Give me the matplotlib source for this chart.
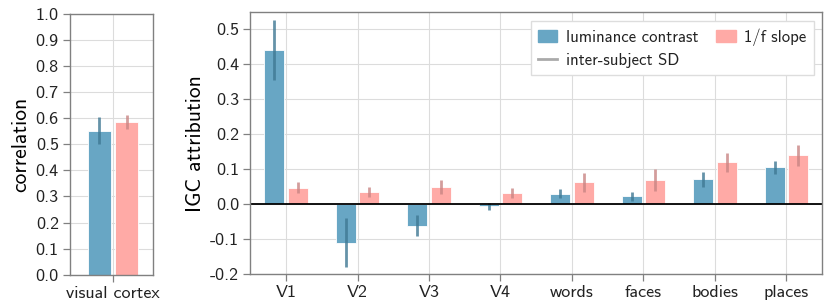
import numpy as np
import matplotlib
matplotlib.use('Agg')
import matplotlib.pyplot as plt
from matplotlib.lines import Line2D
from matplotlib.patches import Patch

plt.rcParams['font.family'] = ['cmss10', 'DejaVu Sans']
plt.rcParams['axes.unicode_minus'] = False

# Data
regions = ['V1', 'V2', 'V3', 'V4', 'words', 'faces', 'bodies', 'places']
lum_mean = [0.44, -0.11, -0.061, -0.006, 0.03, 0.022, 0.071, 0.105]
lum_sd = [0.085, 0.07, 0.031, 0.01, 0.013, 0.012, 0.021, 0.019]
slope_mean = [0.047, 0.035, 0.049, 0.032, 0.063, 0.069, 0.119, 0.139]
slope_sd = [0.015, 0.014, 0.021, 0.013, 0.027, 0.03, 0.028, 0.03]

corr_label = ['visual cortex']
corr_lum = [0.552]
corr_lum_sd = [0.052]
corr_slope = [0.585]
corr_slope_sd = [0.026]

blue = '#68a6c4'
pink = '#ffaaa6'
blue_err = '#3f7893'
pink_err = '#c98584'
grid_c = '#dcdcdc'
spine_c = '#808080'
width = 0.28
off = 0.165


def style(ax):
    ax.set_axisbelow(True)
    ax.grid(True, color=grid_c, linewidth=0.8)
    for s in ax.spines.values():
        s.set_color(spine_c)
        s.set_linewidth(1.0)
    ax.tick_params(labelcolor='#222222', labelsize=13, length=5, width=0.9, color=spine_c, pad=3)


fig = plt.figure(figsize=(8.3, 3.02), dpi=100)
ax1 = fig.add_axes([0.0843, 0.09, 0.0996, 0.865])
ax2 = fig.add_axes([0.3016, 0.092, 0.6888, 0.8675])

# left panel
x1 = np.arange(len(corr_label))
ax1.bar(x1 - off, corr_lum, width, color=blue, edgecolor='white', linewidth=0.6)
ax1.bar(x1 + off, corr_slope, width, color=pink, edgecolor='white', linewidth=0.6)
ax1.errorbar(x1 - off, corr_lum, yerr=corr_lum_sd, fmt='none', ecolor=blue_err, elinewidth=2, alpha=0.8)
ax1.errorbar(x1 + off, corr_slope, yerr=corr_slope_sd, fmt='none', ecolor=pink_err, elinewidth=2, alpha=0.8)
ax1.set_xlim(-0.52, 0.48)
ax1.set_ylim(0, 1.0)
ax1.set_yticks(np.arange(0, 1.01, 0.1))
ax1.set_xticks(x1)
ax1.set_xticklabels(corr_label)
ax1.set_ylabel('correlation', fontsize=15.5)
style(ax1)

# right panel
x = np.arange(len(regions))
ax2.bar(x - off, lum_mean, width, color=blue, edgecolor='white', linewidth=0.6)
ax2.bar(x + off, slope_mean, width, color=pink, edgecolor='white', linewidth=0.6)
ax2.errorbar(x - off, lum_mean, yerr=lum_sd, fmt='none', ecolor=blue_err, elinewidth=2, alpha=0.8)
ax2.errorbar(x + off, slope_mean, yerr=slope_sd, fmt='none', ecolor=pink_err, elinewidth=2, alpha=0.8)
ax2.axhline(0, color='black', linewidth=1.3)
ax2.set_xlim(-0.5, len(regions) - 0.5)
ax2.set_ylim(-0.2, 0.548)
ax2.set_yticks(np.arange(-0.2, 0.51, 0.1))
ax2.set_yticklabels([f'{v:.1f}' for v in np.arange(-0.2, 0.51, 0.1)])
ax2.set_xticks(x)
ax2.set_xticklabels(regions)
ax2.set_ylabel('IGC attribution', fontsize=15.5)
style(ax2)

handles = [Patch(color=blue, label='luminance contrast'),
           Line2D([], [], color='#aaaaaa', linewidth=2, label='inter-subject SD'),
           Patch(color=pink, label='1/f slope')]
leg = ax2.legend(handles=handles, ncol=2, loc='upper right', fontsize=12,
                 fancybox=False, framealpha=1, edgecolor='#dddddd',
                 handlelength=1.15, handleheight=0.7, columnspacing=1.1,
                 borderpad=0.45, labelspacing=0.5, handletextpad=0.5)
for t in leg.get_texts():
    t.set_color('#222222')

fig.savefig('out.png', dpi=100)
